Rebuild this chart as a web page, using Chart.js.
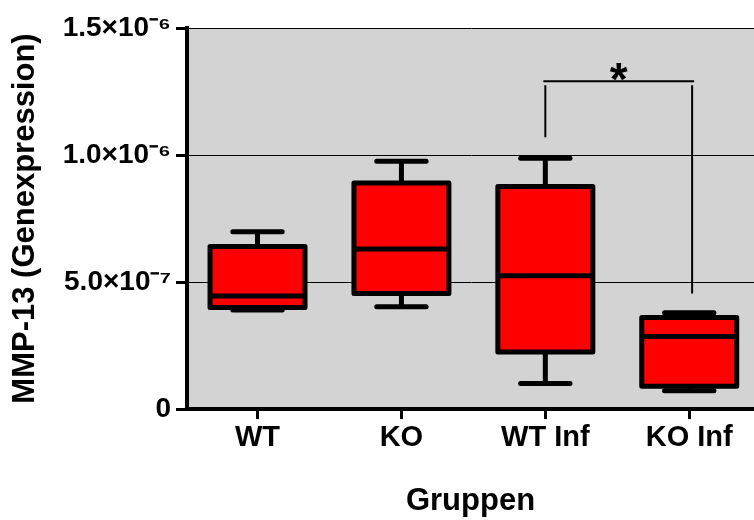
<!DOCTYPE html>
<html>
<head>
<meta charset="utf-8">
<script src="https://cdn.jsdelivr.net/npm/chart.js@4/dist/chart.umd.min.js"></script>
<style>
  html, body { margin: 0; padding: 0; background: #ffffff; }
  #wrap { width: 754px; height: 520px; }
</style>
</head>
<body>
<div id="wrap"><canvas id="c" width="754" height="520"></canvas></div>
<script>
// Groups and five-number summaries of MMP-13 expression
const groups = ['WT', 'KO', 'WT Inf', 'KO Inf'];
const minima   = [3.90e-7, 4.03e-7, 1.00e-7, 0.72e-7];
const lowerQ   = [4.00e-7, 4.55e-7, 2.24e-7, 0.90e-7];
const medians  = [4.45e-7, 6.30e-7, 5.25e-7, 2.85e-7];
const upperQ   = [6.40e-7, 8.90e-7, 8.76e-7, 3.60e-7];
const maxima   = [6.98e-7, 9.75e-7, 9.87e-7, 3.79e-7];

// Value axis ticks
const yTickValues = [0, 5e-7, 1e-6, 1.5e-6];
const yTickLabels = ['0', '5.0×10⁻⁷', '1.0×10⁻⁶', '1.5×10⁻⁶'];

// Significance bracket between WT Inf and KO Inf
const bracketGroups = [2, 3.02];
const bracketLevel = 12.9e-7;
const bracketEnds = [10.7e-7, 4.55e-7];
const bracketMark = '*';

const FONT = "'Liberation Sans', Arial, Helvetica, sans-serif";

const boxPlugin = {
  id: 'boxWhiskers',
  beforeDraw(chart) {
    const { ctx, chartArea: a } = chart;
    ctx.save();
    ctx.fillStyle = '#d3d3d3';
    ctx.fillRect(a.left, a.top, a.right - a.left, a.bottom - a.top);
    ctx.restore();
  },
  afterDatasetsDraw(chart) {
    const { ctx } = chart;
    const xs = chart.scales.x, ys = chart.scales.y;
    const meta = chart.getDatasetMeta(0);
    ctx.save();
    ctx.strokeStyle = '#000000';
    ctx.lineWidth = 5;
    meta.data.forEach((bar, i) => {
      const p = bar.getProps(['x', 'y', 'base', 'width'], true);
      const half = p.width / 2;
      const capHalf = p.width * 0.26;
      const yMax = ys.getPixelForValue(maxima[i]);
      const yMin = ys.getPixelForValue(minima[i]);
      const yQ3 = ys.getPixelForValue(upperQ[i]);
      const yQ1 = ys.getPixelForValue(lowerQ[i]);
      const yMed = ys.getPixelForValue(medians[i]);
      // whisker stems
      ctx.lineCap = 'butt';
      ctx.beginPath();
      ctx.moveTo(p.x, yQ3); ctx.lineTo(p.x, yMax);
      ctx.moveTo(p.x, yQ1); ctx.lineTo(p.x, yMin);
      ctx.stroke();
      // whisker caps
      ctx.lineCap = 'round';
      ctx.beginPath();
      ctx.moveTo(p.x - capHalf, yMax); ctx.lineTo(p.x + capHalf, yMax);
      ctx.moveTo(p.x - capHalf, yMin); ctx.lineTo(p.x + capHalf, yMin);
      ctx.stroke();
      // box outline centred on the quartiles
      ctx.lineJoin = 'round';
      ctx.strokeRect(p.x - half, yQ3, p.width, yQ1 - yQ3);
      // median
      ctx.lineCap = 'butt';
      ctx.beginPath();
      ctx.moveTo(p.x - half, yMed); ctx.lineTo(p.x + half, yMed);
      ctx.stroke();
    });

    // significance bracket
    const bx0 = xs.getPixelForValue(bracketGroups[0]);
    const bx1 = xs.getPixelForValue(bracketGroups[1]);
    const by = ys.getPixelForValue(bracketLevel);
    ctx.lineWidth = 2;
    ctx.lineCap = 'butt';
    ctx.beginPath();
    ctx.moveTo(bx0 - 2, by); ctx.lineTo(bx1 + 2, by);
    ctx.moveTo(bx0, by + 4); ctx.lineTo(bx0, ys.getPixelForValue(bracketEnds[0]));
    ctx.moveTo(bx1, by + 4); ctx.lineTo(bx1, ys.getPixelForValue(bracketEnds[1]));
    ctx.stroke();
    ctx.fillStyle = '#000000';
    ctx.font = 'bold 46px ' + FONT;
    ctx.textAlign = 'center';
    ctx.textBaseline = 'alphabetic';
    ctx.fillText(bracketMark, (bx0 + bx1) / 2, by + 14);
    ctx.restore();
  }
};

new Chart(document.getElementById('c'), {
  type: 'bar',
  data: {
    datasets: [{
      data: groups.map((g, i) => ({ x: i, y: [lowerQ[i], upperQ[i]] })),
      backgroundColor: '#ff0000',
      borderWidth: 0,
      borderSkipped: false,
      categoryPercentage: 1,
      barPercentage: 0.66
    }]
  },
  options: {
    responsive: false,
    animation: false,
    events: [],
    layout: { padding: { top: 28, right: 0, bottom: 0, left: 0 } },
    plugins: { legend: { display: false }, tooltip: { enabled: false } },
    scales: {
      x: {
        type: 'linear',
        offset: false,
        min: -0.49,
        max: 3.45,
        afterBuildTicks: (axis) => { axis.ticks = groups.map((g, i) => ({ value: i })); },
        afterFit: (axis) => { axis.height = 111; },
        ticks: {
          callback: (v) => groups[v],
          color: '#000000',
          font: { family: FONT, size: 29, weight: 'bold' },
          padding: 2,
          maxRotation: 0,
          autoSkip: false
        },
        grid: {
          offset: false,
          drawOnChartArea: false,
          tickLength: 10,
          tickWidth: 3,
          tickColor: '#000000'
        },
        border: { color: '#000000', width: 4 },
        title: {
          display: true,
          text: 'Gruppen',
          color: '#000000',
          font: { family: FONT, size: 31, weight: 'bold' },
          padding: { top: 0, bottom: 0 }
        }
      },
      y: {
        min: 0,
        max: 1.5e-6,
        afterBuildTicks: (axis) => { axis.ticks = yTickValues.map(v => ({ value: v })); },
        afterFit: (axis) => { axis.width = 187; },
        ticks: {
          callback: (v) => yTickLabels[yTickValues.indexOf(v)],
          color: '#000000',
          font: { family: FONT, size: 28, weight: 'bold' },
          padding: 5
        },
        grid: {
          color: '#000000',
          lineWidth: 1,
          tickLength: 11,
          tickWidth: 3,
          tickColor: '#000000'
        },
        border: { color: '#000000', width: 4 },
        title: {
          display: true,
          text: 'MMP-13 (Genexpression)',
          color: '#000000',
          font: { family: FONT, size: 31, weight: 'bold' },
          padding: { top: 7, bottom: 0 }
        }
      }
    }
  },
  plugins: [boxPlugin]
});
</script>
</body>
</html>
